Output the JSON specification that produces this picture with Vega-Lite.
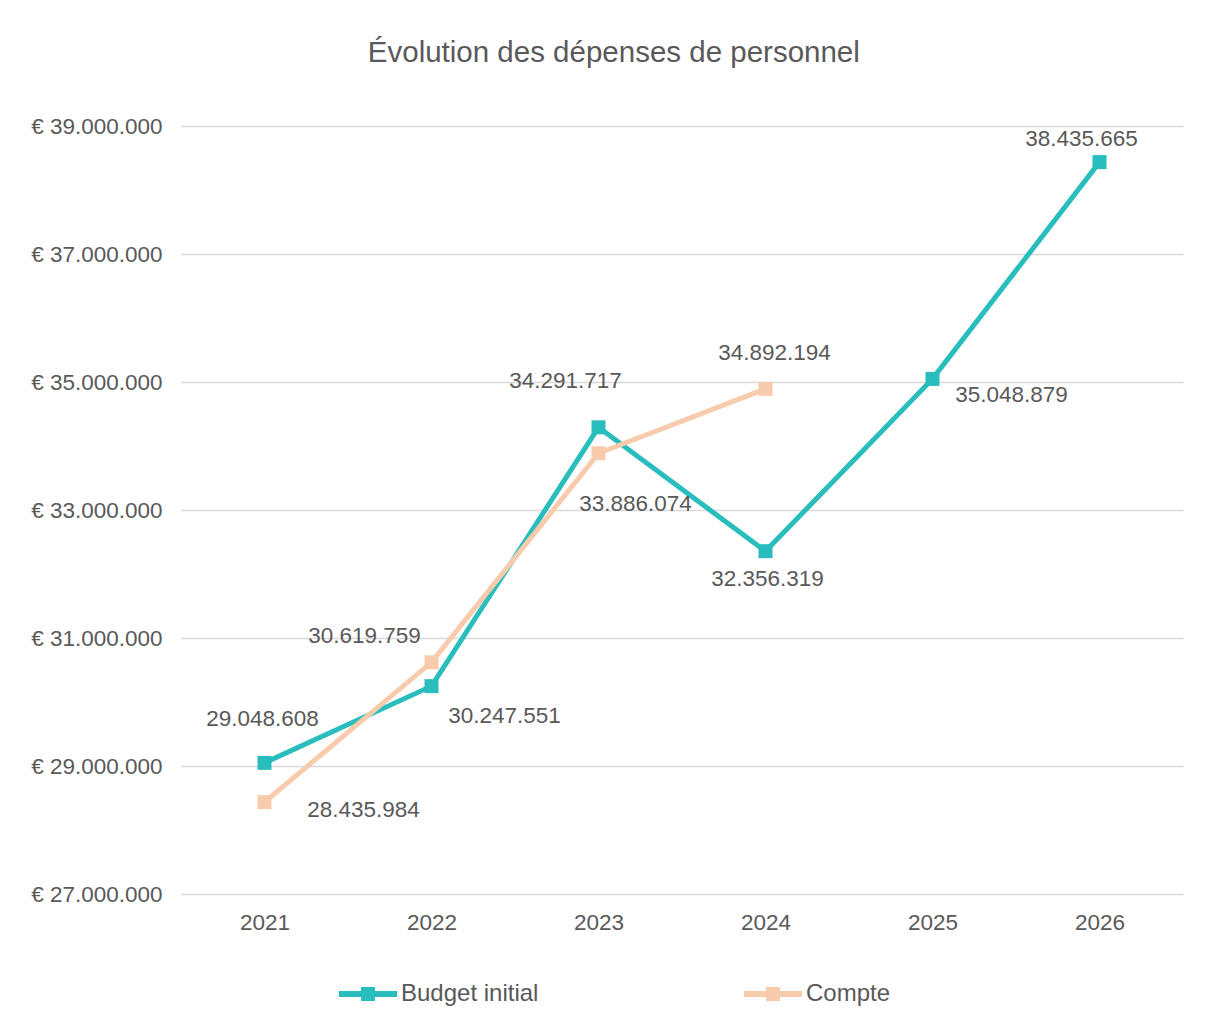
{
  "$schema": "https://vega.github.io/schema/vega-lite/v6.json",
  "width": 1002,
  "height": 768,
  "padding": {"left": 30, "top": 37, "right": 25, "bottom": 10},
  "background": "white",
  "config": {
    "locale": {"number": {"decimal": ",", "thousands": ".", "grouping": [3], "currency": ["€ ", ""]}},
    "font": "Liberation Sans",
    "view": {"stroke": null}
  },
  "title": {"text": "Évolution des dépenses de personnel", "fontSize": 29.5, "font": "Liberation Sans", "fontWeight": "normal", "color": "#595959", "offset": 47, "anchor": "middle", "frame": "bounds", "dx": 7},
  "data": {"values": [
    {"year": "2021", "series": "Budget initial", "value": 29048608},
    {"year": "2022", "series": "Budget initial", "value": 30247551},
    {"year": "2023", "series": "Budget initial", "value": 34291717},
    {"year": "2024", "series": "Budget initial", "value": 32356319},
    {"year": "2025", "series": "Budget initial", "value": 35048879},
    {"year": "2026", "series": "Budget initial", "value": 38435665},
    {"year": "2021", "series": "Compte", "value": 28435984},
    {"year": "2022", "series": "Compte", "value": 30619759},
    {"year": "2023", "series": "Compte", "value": 33886074},
    {"year": "2024", "series": "Compte", "value": 34892194}
  ]},
  "encoding": {
    "x": {"field": "year", "type": "ordinal", "scale": {"type": "point", "padding": 0.5},
      "axis": {"title": null, "labelAngle": 0, "labelFontSize": 22.5, "labelColor": "#595959", "labelPadding": 17, "ticks": false, "domain": false, "grid": false}},
    "y": {"field": "value", "type": "quantitative", "scale": {"domain": [27000000, 39000000], "nice": false, "zero": false},
      "axis": {"title": null, "values": [27000000, 29000000, 31000000, 33000000, 35000000, 37000000, 39000000], "format": "$,.0f", "labelFontSize": 22.5, "labelColor": "#595959", "labelPadding": 19, "ticks": false, "domain": false, "gridColor": "#d9d9d9", "gridWidth": 1.5}}
  },
  "layer": [
    {"mark": {"type": "line", "strokeWidth": 5},
     "encoding": {"color": {"field": "series", "type": "nominal", "scale": {"domain": ["Budget initial", "Compte"], "range": ["#29BDBD", "#F8CBAD"]}, "legend": null}}},
    {"mark": {"type": "point", "shape": "square", "filled": true, "size": 196, "opacity": 1},
     "encoding": {"color": {"field": "series", "type": "nominal", "scale": {"domain": ["Budget initial", "Compte"], "range": ["#29BDBD", "#F8CBAD"]},
       "legend": {"orient": "none", "legendX": 158, "legendY": 839, "direction": "horizontal", "title": null, "symbolType": "M-1,-0.1H1V0.1H-1Z M-0.24,-0.24H0.24V0.24H-0.24Z", "symbolSize": 3364, "symbolStrokeWidth": 0, "labelFontSize": 24, "labelColor": "#595959", "labelOffset": 4, "columnPadding": 205, "labelLimit": 300}}}},
    {"transform": [{"filter": "datum.series === 'Budget initial' && datum.year === '2021'"}], "mark": {"type": "text", "dx": -2, "dy": -44, "fontSize": 22.5, "color": "#595959"}, "encoding": {"text": {"field": "value", "type": "quantitative", "format": ",.0f"}}},
    {"transform": [{"filter": "datum.series === 'Budget initial' && datum.year === '2022'"}], "mark": {"type": "text", "dx": 73, "dy": 30, "fontSize": 22.5, "color": "#595959"}, "encoding": {"text": {"field": "value", "type": "quantitative", "format": ",.0f"}}},
    {"transform": [{"filter": "datum.series === 'Budget initial' && datum.year === '2023'"}], "mark": {"type": "text", "dx": -33, "dy": -46, "fontSize": 22.5, "color": "#595959"}, "encoding": {"text": {"field": "value", "type": "quantitative", "format": ",.0f"}}},
    {"transform": [{"filter": "datum.series === 'Budget initial' && datum.year === '2024'"}], "mark": {"type": "text", "dx": 2, "dy": 28, "fontSize": 22.5, "color": "#595959"}, "encoding": {"text": {"field": "value", "type": "quantitative", "format": ",.0f"}}},
    {"transform": [{"filter": "datum.series === 'Budget initial' && datum.year === '2025'"}], "mark": {"type": "text", "dx": 79, "dy": 16, "fontSize": 22.5, "color": "#595959"}, "encoding": {"text": {"field": "value", "type": "quantitative", "format": ",.0f"}}},
    {"transform": [{"filter": "datum.series === 'Budget initial' && datum.year === '2026'"}], "mark": {"type": "text", "dx": -18, "dy": -23, "fontSize": 22.5, "color": "#595959"}, "encoding": {"text": {"field": "value", "type": "quantitative", "format": ",.0f"}}},
    {"transform": [{"filter": "datum.series === 'Compte' && datum.year === '2021'"}], "mark": {"type": "text", "dx": 99, "dy": 8, "fontSize": 22.5, "color": "#595959"}, "encoding": {"text": {"field": "value", "type": "quantitative", "format": ",.0f"}}},
    {"transform": [{"filter": "datum.series === 'Compte' && datum.year === '2022'"}], "mark": {"type": "text", "dx": -67, "dy": -26, "fontSize": 22.5, "color": "#595959"}, "encoding": {"text": {"field": "value", "type": "quantitative", "format": ",.0f"}}},
    {"transform": [{"filter": "datum.series === 'Compte' && datum.year === '2023'"}], "mark": {"type": "text", "dx": 37, "dy": 51, "fontSize": 22.5, "color": "#595959"}, "encoding": {"text": {"field": "value", "type": "quantitative", "format": ",.0f"}}},
    {"transform": [{"filter": "datum.series === 'Compte' && datum.year === '2024'"}], "mark": {"type": "text", "dx": 9, "dy": -36, "fontSize": 22.5, "color": "#595959"}, "encoding": {"text": {"field": "value", "type": "quantitative", "format": ",.0f"}}}
  ],
  "resolve": {"legend": {"color": "independent"}}
}
